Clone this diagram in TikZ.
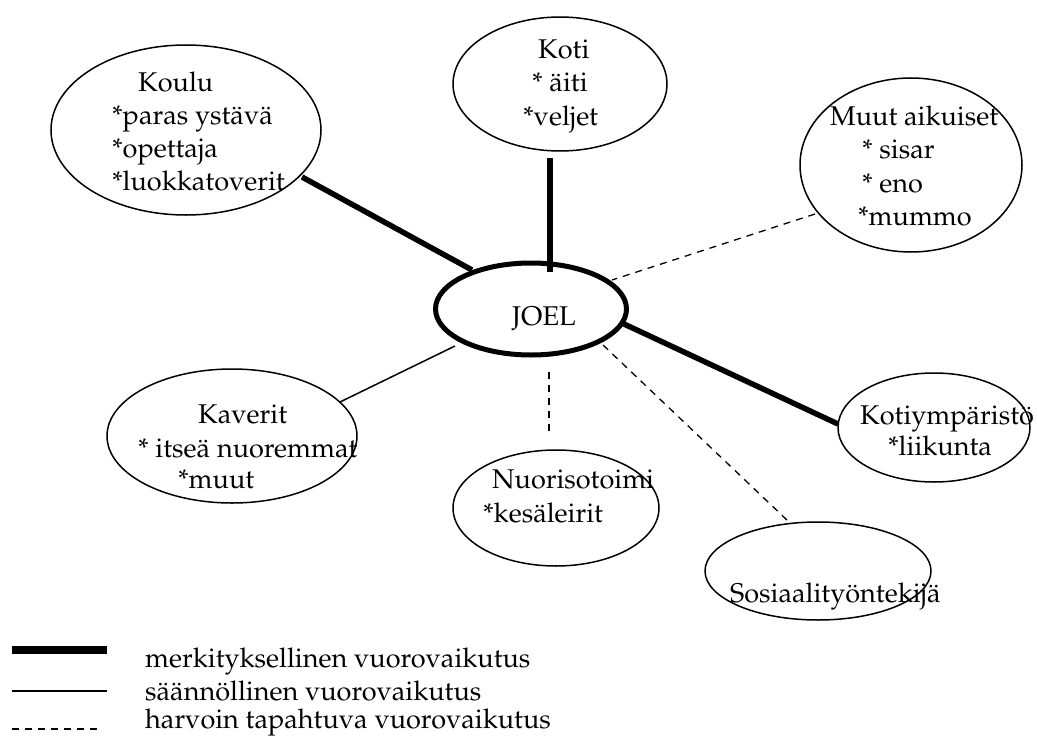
\documentclass[tikz,border=0pt]{standalone}
\usepackage[T1]{fontenc}
\usepackage{mathpazo}
\usetikzlibrary{shapes.geometric}

\begin{document}
\begin{tikzpicture}[x=1bp, y=-1bp,
  bubble/.style={draw, ellipse, line width=1.5bp, inner sep=0pt},
  centre/.style={draw, ellipse, line width=5bp, inner sep=0pt},
  lbl/.style={anchor=base west, inner sep=0pt, font=\fontsize{27.2}{33}\selectfont},
  strong/.style={line width=5.5bp},
  regular/.style={line width=1.5bp},
  rare/.style={line width=1.3bp, dash pattern=on 7bp off 6bp}]
\useasboundingbox (0,0) rectangle (1037,736);

% bubbles
\node[bubble, minimum width=270bp, minimum height=170bp] (koulu) at (186,130) {};
\node[bubble, minimum width=214bp, minimum height=134bp] (koti) at (560,84) {};
\node[bubble, minimum width=222bp, minimum height=174bp] (muut) at (911,165) {};
\node[centre, minimum width=191bp, minimum height=92bp] (joel) at (531,309) {};
\node[bubble, minimum width=250bp, minimum height=134bp] (kaverit) at (232,436) {};
\node[bubble, minimum width=206bp, minimum height=116bp] (nuoriso) at (556,508) {};
\node[bubble, minimum width=192bp, minimum height=109bp] (kotiymp) at (934,427.5) {};
\node[bubble, minimum width=226bp, minimum height=98bp] (sosiaali) at (818,571) {};

% connector ends
\coordinate (kouluEnd) at (302,177);   \coordinate (joelNW) at (472,270);
\coordinate (kotiEnd) at (550,158);    \coordinate (joelN) at (550,272);
\coordinate (muutEnd) at (815,214);    \coordinate (joelNE) at (612,280);
\coordinate (joelE) at (624,324);      \coordinate (kotiympEnd) at (838,424);
\coordinate (joelSE) at (603,345);     \coordinate (sosiaaliEnd) at (788,521);
\coordinate (joelS) at (549,372);      \coordinate (nuorisoEnd) at (549,437);
\coordinate (joelSW) at (455,346);     \coordinate (kaveritEnd) at (340,402);

% connectors
\draw[strong] (kouluEnd) -- (joelNW);
\draw[strong] (kotiEnd) -- (joelN);
\draw[strong] (joelE) -- (kotiympEnd);
\draw[regular] (kaveritEnd) -- (joelSW);
\draw[rare] (muutEnd) -- (joelNE);
\draw[rare] (joelSE) -- (sosiaaliEnd);
\draw[rare] (joelS) -- (nuorisoEnd);

% texts
\node[lbl] (koulu1) at (138,92) {Koulu};
\node[lbl] (koulu2) at (112,124) {*paras yst\"av\"a};
\node[lbl] (koulu3) at (112,157) {*opettaja};
\node[lbl] (koulu4) at (112,190) {*luokkatoverit};

\node[lbl] (koti1) at (538,59) {Koti};
\node[lbl] (koti2) at (532,92) {* \"aiti};
\node[lbl] (koti3) at (523,125) {*veljet};

\node[lbl] (muut1) at (830,125) {Muut aikuiset};
\node[lbl] (muut2) at (862,158) {* sisar};
\node[lbl] (muut3) at (862,192) {* eno};
\node[lbl] (muut4) at (858,225) {*mummo};

\node[lbl] (joelText) at (512,325) {JOEL};

\node[lbl] (kaverit1) at (198,423) {Kaverit};
\node[lbl] (kaverit2) at (138,457) {* itse\"a nuoremmat};
\node[lbl] (kaverit3) at (178,488) {*muut};

\node[lbl] (nuoriso1) at (492,488) {Nuorisotoimi};
\node[lbl] (nuoriso2) at (483,522) {*kes\"aleirit};

\node[lbl] (kotiymp1) at (860,424) {Kotiymp\"arist\"o};
\node[lbl] (kotiymp2) at (888,455) {*liikunta};

\node[lbl] (sosiaali1) at (730,602) {Sosiaality\"ontekij\"a};

% key
\draw[line width=8bp] (12,650) -- (107,650);
\draw[line width=2bp] (12,691) -- (107,691);
\draw[rare] (12,729) -- (102,729);
\node[lbl] (key1) at (145,667) {merkityksellinen vuorovaikutus};
\node[lbl] (key2) at (145,700) {s\"a\"ann\"ollinen vuorovaikutus};
\node[lbl] (key3) at (145,728) {harvoin tapahtuva vuorovaikutus};
\end{tikzpicture}
\end{document}
